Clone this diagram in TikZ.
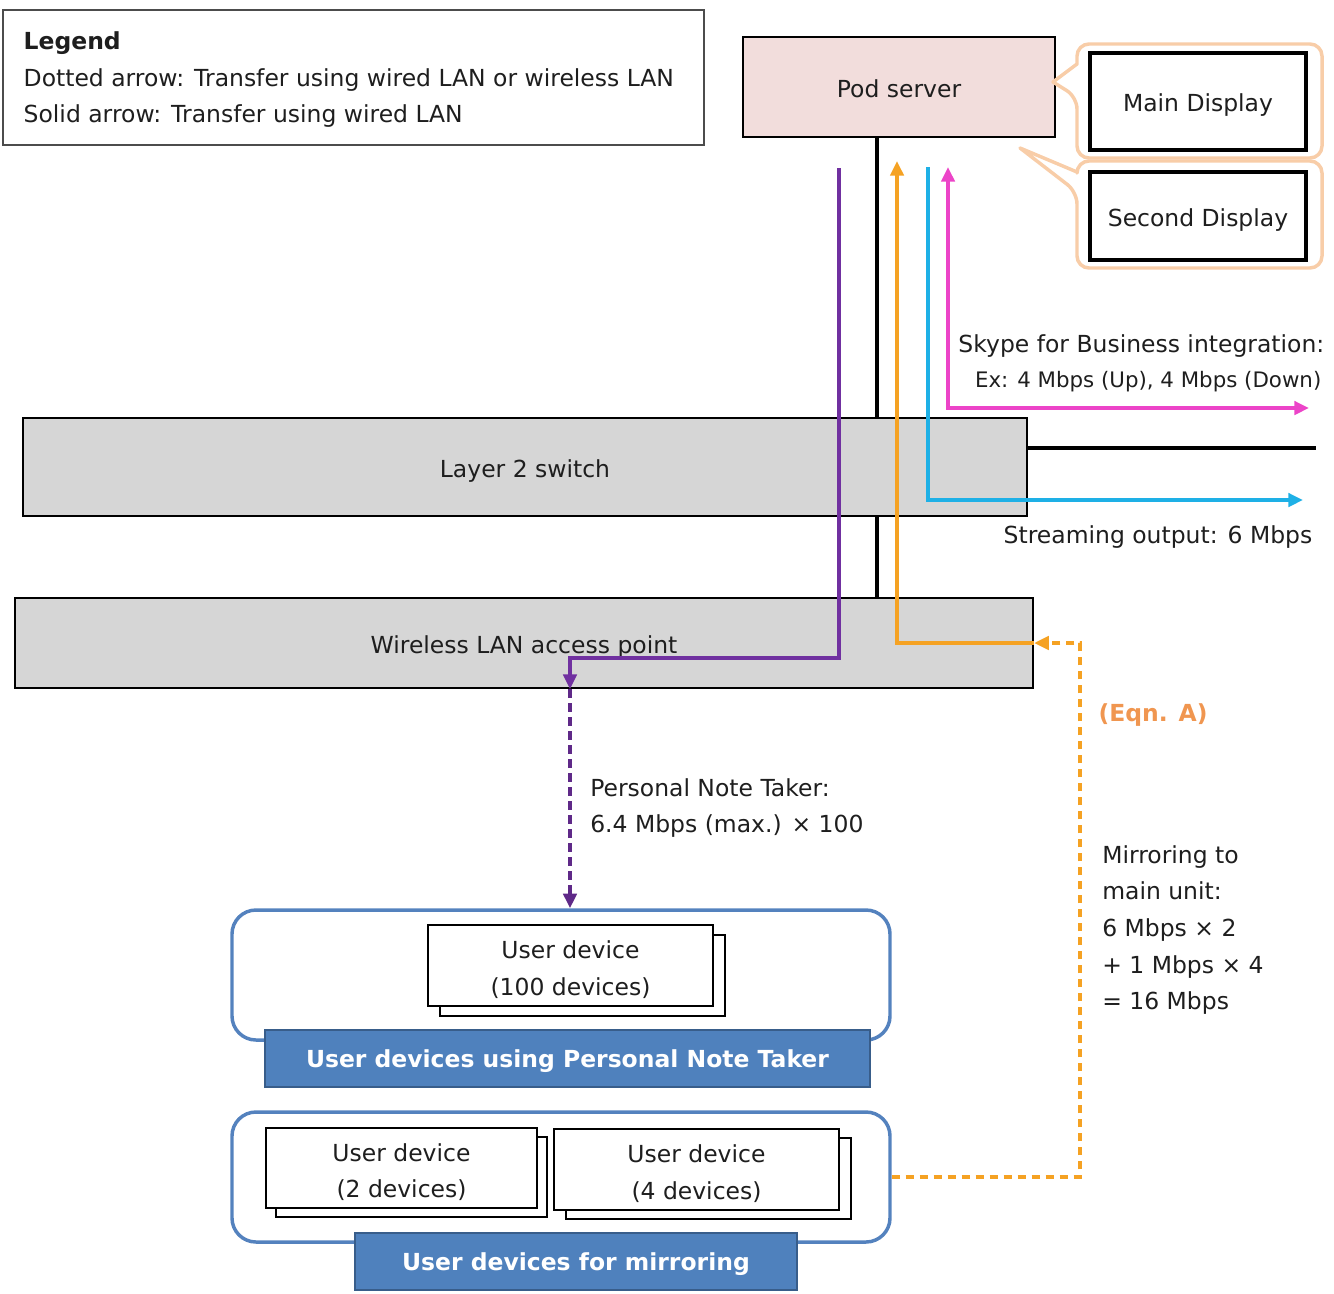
\documentclass[tikz,border=0pt]{standalone}
\usepackage{fontspec}
\setmainfont{DejaVu Sans}
\usetikzlibrary{arrows.meta}
\definecolor{txt}{RGB}{30,30,30}
\definecolor{podfill}{RGB}{242,221,220}
\definecolor{gfill}{RGB}{214,214,214}
\definecolor{callc}{RGB}{248,205,168}
\definecolor{cpur}{RGB}{112,48,160}
\definecolor{cora}{RGB}{245,162,35}
\definecolor{ccya}{RGB}{30,176,230}
\definecolor{cmag}{RGB}{236,68,200}
\definecolor{grpc}{RGB}{84,130,190}
\definecolor{barc}{RGB}{79,129,189}
\definecolor{bard}{RGB}{56,93,138}
\definecolor{eqc}{RGB}{240,150,80}
\newcommand{\mainsz}{\fontsize{17.6}{27.5}\selectfont}
\begin{document}
\begin{tikzpicture}[x=0.75pt,y=-0.75pt,
  every node/.style={text=txt,font=\mainsz},
  gbox/.style={draw=black,line width=1.7pt,fill=gfill,inner sep=0pt},
  disp/.style={draw=black,line width=3.2pt,fill=white,inner sep=0pt},
  callout/.style={draw=callc,line width=2.6pt,fill=white,line join=round},
  dev/.style={draw=black,line width=1.6pt,fill=white,inner sep=0pt},
  grp/.style={draw=grpc,line width=2.6pt,rounded corners=18pt,inner sep=0pt},
  bar/.style={draw=bard,line width=1.5pt,fill=barc,inner sep=0pt},
  bartext/.style={text=white,font=\mainsz\bfseries,yshift=-2pt},
  intext/.style={align=center,yshift=-3pt},
  flow/.style={line width=2.6pt},
  tip/.style={-{Triangle[length=11pt,width=10pt]}},
  dtip/.style={{Triangle[length=11pt,width=10pt]}-{Triangle[length=11pt,width=10pt]}},
  dashline/.style={dash pattern=on 6.5pt off 4pt}
]
\useasboundingbox (0,0) rectangle (1334,1293);

% Legend
\node[draw=black!70,line width=1.2pt,minimum width=525.75pt,minimum height=101.25pt,inner sep=0pt] (legend) at (353.5,77.5) {};
\node[anchor=west,font=\mainsz\bfseries] (lg0) at (19,43) {Legend};
\node[anchor=west] (lg1) at (19,80) {Dotted arrow: Transfer using wired LAN or wireless LAN};
\node[anchor=west] (lg2) at (19,116) {Solid arrow: Transfer using wired LAN};

% Pod server
\node[draw=black,line width=1.7pt,fill=podfill,minimum width=234pt,minimum height=75pt,inner sep=0pt] (pod) at (899,87) {};
\node[intext,yshift=2pt] (podt) at (pod.center) {Pod server};

% Callouts
\draw[callout] (1077,97) [rounded corners=0pt] -- (1053,82) -- (1077,64) [rounded corners=9pt] -- (1077,44) -- (1322,44) -- (1322,158) -- (1077,158) -- cycle;
\draw[callout] (1077,192) [rounded corners=0pt] -- (1020,148) -- (1077,172) [rounded corners=9pt] -- (1077,161) -- (1322,161) -- (1322,268) -- (1077,268) -- cycle;
\node[disp,minimum width=162pt,minimum height=72.75pt] (main) at (1198,101.5) {};
\node[intext] (maint) at (main.center) {Main Display};
\node[disp,minimum width=162pt,minimum height=66pt] (second) at (1198,216) {};
\node[intext] (secondt) at (second.center) {Second Display};

% Switch and AP
\node[gbox,minimum width=753pt,minimum height=73.5pt] (sw) at (525,467) {};
\node[intext] (swt) at (sw.center) {Layer 2 switch};
\node[gbox,minimum width=763.5pt,minimum height=67.5pt] (ap) at (524,643) {};
\node[intext] (apt) at (ap.center) {Wireless LAN access point};

% x positions
\coordinate (xblk) at (877,0);
\coordinate (xpur) at (839,0);
\coordinate (xora) at (897,0);
\coordinate (xcya) at (928,0);
\coordinate (xmag) at (948,0);
\coordinate (xpn) at (570,0);
\coordinate (xeq) at (1080,0);
\coordinate (ptop) at (839,168);
\coordinate (otop) at (897,161);
\coordinate (ctop) at (928,167);
\coordinate (mtop) at (948,167);
\coordinate (cend) at (1303,500);
\coordinate (mend) at (1309,408);
\coordinate (bend) at (1316,448);

% black wired lines
\draw[line width=2.4pt] (pod.south -| xblk) -- (sw.north -| xblk);
\draw[line width=2.4pt] (sw.south -| xblk) -- (ap.north -| xblk);
\draw[line width=2.4pt] (sw.east |- bend) -- (bend);

% Groups
\node[grp,minimum width=493.5pt,minimum height=97.5pt] (g1) at (561,975) {};
\node[grp,minimum width=493.5pt,minimum height=97.5pt] (g2) at (561,1177) {};
\node[bar,minimum width=453.75pt,minimum height=42.75pt] (bar1) at (567.5,1058.5) {};
\node[bartext] (bar1t) at (bar1.center) {User devices using Personal Note Taker};
\node[bar,minimum width=331.5pt,minimum height=42.75pt] (bar2) at (576,1261.5) {};
\node[bartext] (bar2t) at (bar2.center) {User devices for mirroring};

% Devices
\node[dev,minimum width=213.75pt,minimum height=60.75pt] (ud100b) at (582.5,975.5) {};
\node[dev,minimum width=213.75pt,minimum height=60.75pt] (ud100) at (570.5,965.5) {};
\node[intext] (ud100t) at (ud100.center) {User device\\(100 devices)};
\node[dev,minimum width=203.25pt,minimum height=60pt] (ud2b) at (411.5,1177) {};
\node[dev,minimum width=203.25pt,minimum height=60pt] (ud2) at (401.5,1168) {};
\node[intext] (ud2t) at (ud2.center) {User device\\(2 devices)};
\node[dev,minimum width=213.75pt,minimum height=60.75pt] (ud4b) at (708.5,1178.5) {};
\node[dev,minimum width=213.75pt,minimum height=60.75pt] (ud4) at (696.5,1169.5) {};
\node[intext] (ud4t) at (ud4.center) {User device\\(4 devices)};

% Flows
\draw[flow,cpur,tip] (ptop) -- (839,658) -- (570,658) -- (ap.south -| xpn);
\draw[flow,cpur!85!black,dashline,tip] (ap.south -| xpn) -- (g1.north -| xpn);
\draw[flow,cora,tip] (ap.east) -- (ap.east -| xora) -- (otop);
\draw[flow,cora,dashline,tip] (g2.east) -- (g2.east -| xeq) -- (ap.east -| xeq) -- (ap.east);
\draw[flow,ccya,tip] (ctop) -- (ctop |- cend) -- (cend);
\draw[flow,cmag,dtip] (mtop) -- (mtop |- mend) -- (mend);

% Labels
\node[anchor=east] (lsky) at (1329,346) {Skype for Business integration:};
\node[anchor=east,font=\fontsize{16}{20}\selectfont] (lex) at (1326,382) {Ex: 4 Mbps (Up), 4 Mbps (Down)};
\node[anchor=east] (lstr) at (1317,537) {Streaming output: 6 Mbps};
\node[font=\mainsz\bfseries,text=eqc] (leq) at (1153,715) {(Eqn. A)};
\node[anchor=north west,align=left,inner sep=0pt] (lpnt) at (590,778) {Personal Note Taker:\\6.4 Mbps (max.) × 100};
\node[anchor=north west,align=left,inner sep=0pt] (lmir) at (1102,845) {Mirroring to\\main unit:\\6 Mbps × 2\\+ 1 Mbps × 4\\= 16 Mbps};
\end{tikzpicture}
\end{document}
